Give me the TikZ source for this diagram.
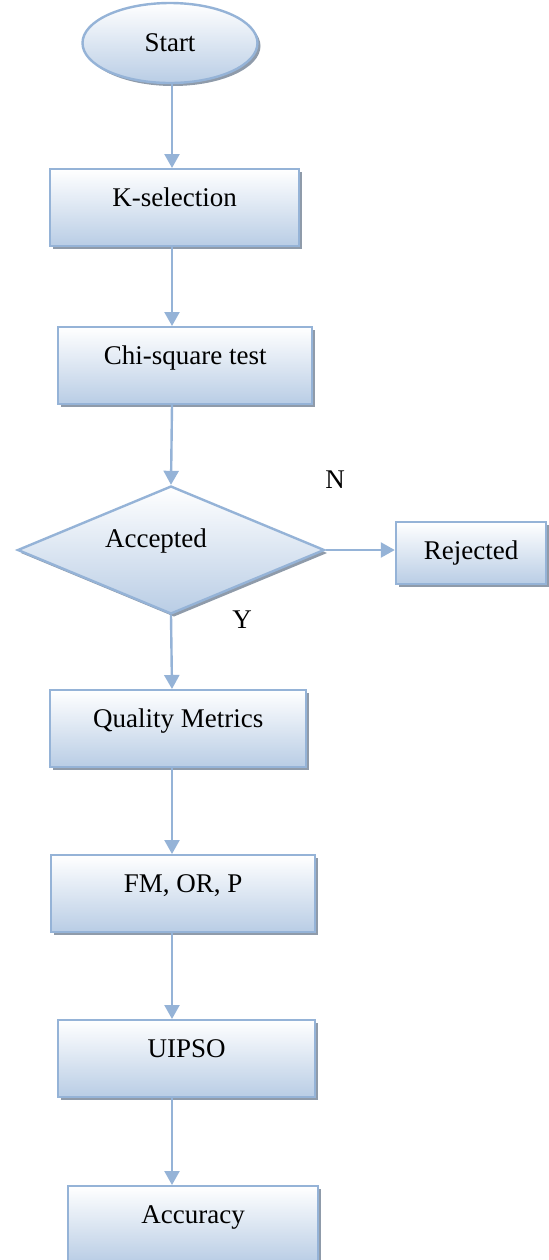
\documentclass[tikz,border=0pt]{standalone}
\usepackage{fontspec}
\setmainfont{Liberation Serif}
\usetikzlibrary{shapes.geometric,shadows,arrows.meta}

\definecolor{flowline}{HTML}{95B3D7}
\definecolor{flowfill}{HTML}{B9CDE5}
\definecolor{flowshadow}{HTML}{8F9BAA}

\tikzset{
  flowshade/.style={draw=flowline, line width=1.2pt, top color=white, bottom color=flowfill,
    drop shadow={shadow xshift=1.5pt, shadow yshift=-1.5pt, fill=flowshadow, opacity=1}},
  procbox/.style={flowshade, rectangle, anchor=north west, inner sep=0pt,
    text height=18.75pt, text depth=19.5pt},
  flowarrow/.style={draw=flowline, line width=1.2pt, -{Triangle[length=7pt,width=7.5pt]}, flowline}
}

\begin{document}
\begin{tikzpicture}[x=0.5pt,y=0.5pt,yscale=-1,xscale=1,font=\fontsize{13.5}{16}\selectfont]
\useasboundingbox (0,0) rectangle (549,1260);

%Flowchart: Terminator
\node [flowshade, ellipse, inner sep=0pt, minimum width=87.5pt, minimum height=40pt] (start) at (170,43) {Start};
%Flowchart: Process
\node [procbox, minimum width=124.5pt] (ksel) at (49,168) {K-selection};
%Flowchart: Process
\node [procbox, minimum width=127pt] (chisq) at (57,326) {Chi-square test};
%Flowchart: Decision
\node [flowshade, diamond, inner sep=0pt, shape aspect=2.4, minimum width=153.5pt, minimum height=64pt] (accept) at (171,550) {};
%Flowchart: Process
\node [flowshade, rectangle, inner sep=0pt, minimum width=75pt, minimum height=31pt] (reject) at (471,553) {Rejected};
%Flowchart: Process
\node [procbox, minimum width=128pt] (qmetric) at (49,689) {Quality Metrics};
%Flowchart: Process
\node [procbox, minimum width=132pt] (fmorp) at (50,854) {FM, OR, P};
%Flowchart: Process
\node [procbox, minimum width=128.5pt] (uipso) at (57,1019) {UIPSO};
%Flowchart: Process
\node [procbox, minimum width=125pt] (accuracy) at (67,1185) {Accuracy};

% Text Node
\node (accepttext) at (156,541) {Accepted};
% Text Node
\node (nolabel) at (335,480) {N};
% Text Node
\node (yeslabel) at (242,620) {Y};

\coordinate (axis) at (172,0);

%Straight Lines
\draw [flowarrow] (start.south -| axis) -- (ksel.north -| axis);
\draw [flowarrow] (ksel.south -| axis) -- (chisq.north -| axis);
\draw [flowarrow] (chisq.south -| axis) -- (accept.north);
\draw [flowarrow] (accept.east) -- (accept.east -| reject.west);
\draw [flowarrow] (accept.south) -- (qmetric.north -| axis);
\draw [flowarrow] (qmetric.south -| axis) -- (fmorp.north -| axis);
\draw [flowarrow] (fmorp.south -| axis) -- (uipso.north -| axis);
\draw [flowarrow] (uipso.south -| axis) -- (accuracy.north -| axis);

\end{tikzpicture}
\end{document}
